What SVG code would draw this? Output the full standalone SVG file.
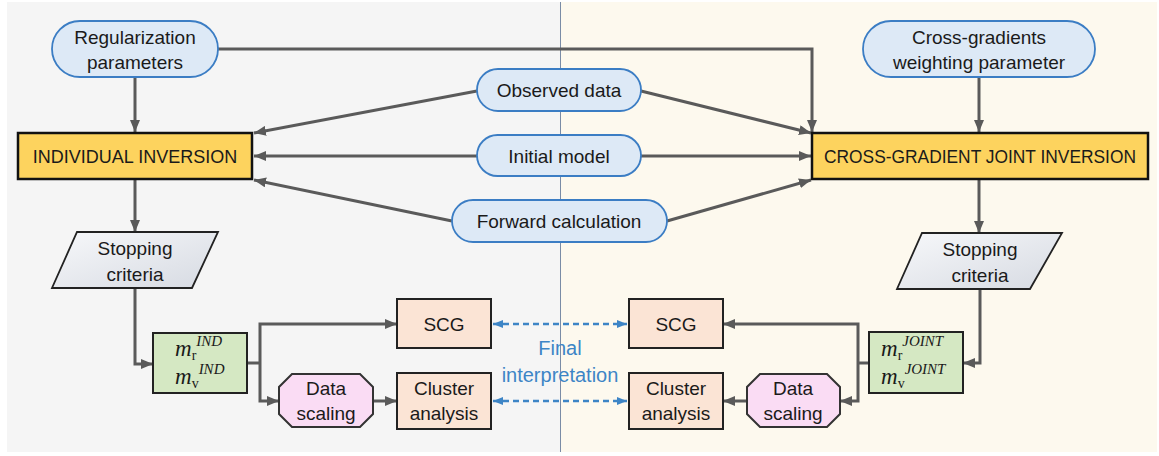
<svg xmlns="http://www.w3.org/2000/svg" width="1159" height="456" viewBox="0 0 1159 456">
<defs>
<style>
.t{font-family:"Liberation Sans",Arial,sans-serif;font-size:19px;fill:#1a1a1a;text-anchor:middle}
.cap{font-size:18px}
.blue{fill:#3d85c6;font-size:20px}
.pill{fill:#dde9f6;stroke:#3b7dc4;stroke-width:1.8}
.main{fill:#fdd35e;stroke:#111;stroke-width:2.5}
.peach{fill:#fbe4d5;stroke:#222;stroke-width:2}
.green{fill:#d5e8c3;stroke:#222;stroke-width:2}
.pink{fill:#fadcf4;stroke:#333;stroke-width:2}
.stop{fill:url(#sg);stroke:#222;stroke-width:1.8}
.c{fill:none;stroke:#5a5a5a;stroke-width:3;marker-end:url(#ah)}
.cn{fill:none;stroke:#5a5a5a;stroke-width:3}
.d{fill:none;stroke:#3d85c6;stroke-width:2.5;stroke-dasharray:6 4;marker-start:url(#bs);marker-end:url(#be)}
.m{font-family:"Liberation Serif","Times New Roman",serif;font-style:italic;font-size:23px;fill:#1a1a1a}
.sb{font-style:normal;font-size:14px}
.sp{font-size:15px}
</style>
<linearGradient id="sg" x1="0" y1="0" x2="1" y2="1">
<stop offset="0" stop-color="#f7f8fa"/>
<stop offset="1" stop-color="#d6dae2"/>
</linearGradient>
<marker id="ah" markerUnits="userSpaceOnUse" viewBox="0 0 12 10" refX="12" refY="5" markerWidth="12" markerHeight="10" orient="auto">
<path d="M0,0 L12,5 L0,10 z" fill="#5a5a5a"/>
</marker>
<marker id="be" markerUnits="userSpaceOnUse" viewBox="0 0 10 8" refX="10" refY="4" markerWidth="10" markerHeight="8" orient="auto">
<path d="M0,0 L10,4 L0,8 z" fill="#3d85c6"/>
</marker>
<marker id="bs" markerUnits="userSpaceOnUse" viewBox="0 0 10 8" refX="0" refY="4" markerWidth="10" markerHeight="8" orient="auto">
<path d="M10,0 L0,4 L10,8 z" fill="#3d85c6"/>
</marker>
</defs>
<rect width="1159" height="456" fill="#ffffff"/>
<rect x="7" y="2" width="553" height="450" fill="#f5f5f5"/>
<rect x="560" y="2" width="597" height="450" fill="#fdf9ee"/>
<line x1="560.5" y1="2" x2="560.5" y2="452" stroke="#7a8ca6" stroke-width="1"/>

<g id="connectors">
<path class="c" d="M135,77 V132"/>
<path class="c" d="M218,49 H812 V132"/>
<path class="c" d="M979,77 V132"/>
<path class="c" d="M477,91 L254,133"/>
<path class="c" d="M477,156 H254"/>
<path class="c" d="M452,221 L254,180"/>
<path class="c" d="M641,91 L811,133"/>
<path class="c" d="M641,156 H811"/>
<path class="c" d="M667,221 L811,180"/>
<path class="c" d="M135,179 V232"/>
<path class="c" d="M979,179 V233"/>
<path class="c" d="M135,288 V364 H153"/>
<path class="c" d="M980,289 V363 H963"/>
<path class="cn" d="M247,363 H260"/>
<path class="c" d="M260,363 V324 H397"/>
<path class="c" d="M260,363 V401 H279"/>
<path class="c" d="M373,401 H397"/>
<path class="cn" d="M869,363 H858"/>
<path class="c" d="M858,363 V324 H723"/>
<path class="c" d="M858,363 V401 H840"/>
<path class="c" d="M747,401 H723"/>
<path class="d" d="M493,324 H627"/>
<path class="d" d="M493,401 H627"/>
</g>

<g id="reg-params">
<rect class="pill" x="52" y="21" width="166" height="56" rx="28"/>
<text class="t" x="135" y="44">Regularization</text>
<text class="t" x="135" y="69">parameters</text>
</g>
<g id="cross-weight">
<rect class="pill" x="863" y="21" width="232" height="56" rx="28"/>
<text class="t" x="979" y="44">Cross-gradients</text>
<text class="t" x="979" y="69">weighting parameter</text>
</g>
<g id="observed">
<rect class="pill" x="477" y="69" width="164" height="42" rx="21"/>
<text class="t" x="559" y="97">Observed data</text>
</g>
<g id="initial">
<rect class="pill" x="477" y="135" width="164" height="41" rx="20.5"/>
<text class="t" x="559" y="163">Initial model</text>
</g>
<g id="forward">
<rect class="pill" x="452" y="200" width="215" height="42" rx="21"/>
<text class="t" x="559" y="228">Forward calculation</text>
</g>
<g id="ind-inv">
<rect class="main" x="18" y="133" width="234" height="46"/>
<text class="t cap" x="135" y="163">INDIVIDUAL INVERSION</text>
</g>
<g id="joint-inv">
<rect class="main" x="812" y="133" width="336" height="46"/>
<text class="t cap" x="980" y="163" textLength="312" lengthAdjust="spacingAndGlyphs">CROSS-GRADIENT JOINT INVERSION</text>
</g>
<g id="stop-left">
<polygon class="stop" points="77,232 218,232 192,288 52,288"/>
<text class="t" x="135" y="255">Stopping</text>
<text class="t" x="135" y="281">criteria</text>
</g>
<g id="stop-right">
<polygon class="stop" points="922,233 1062,233 1030,289 897,289"/>
<text class="t" x="980" y="256">Stopping</text>
<text class="t" x="980" y="282">criteria</text>
</g>
<g id="m-ind">
<rect class="green" x="153" y="333" width="94" height="60"/>
<text class="m" x="175" y="356">m<tspan class="sb" dy="4">r</tspan><tspan class="sp" dy="-14">IND</tspan></text>
<text class="m" x="175" y="384">m<tspan class="sb" dy="4">v</tspan><tspan class="sp" dy="-14">IND</tspan></text>
</g>
<g id="m-joint">
<rect class="green" x="869" y="332" width="94" height="61"/>
<text class="m" x="881" y="356">m<tspan class="sb" dy="4">r</tspan><tspan class="sp" dy="-14">JOINT</tspan></text>
<text class="m" x="881" y="384">m<tspan class="sb" dy="4">v</tspan><tspan class="sp" dy="-14">JOINT</tspan></text>
</g>
<g id="scale-left">
<polygon class="pink" points="292,374 360,374 373,387 373,414 360,427 292,427 279,414 279,387"/>
<text class="t" x="326" y="395">Data</text>
<text class="t" x="326" y="420">scaling</text>
</g>
<g id="scale-right">
<polygon class="pink" points="760,374 827,374 840,387 840,414 827,427 760,427 747,414 747,387"/>
<text class="t" x="793" y="395">Data</text>
<text class="t" x="793" y="420">scaling</text>
</g>
<g id="scg-left">
<rect class="peach" x="397" y="299" width="94" height="49"/>
<text class="t" x="444" y="331">SCG</text>
</g>
<g id="cluster-left">
<rect class="peach" x="397" y="373" width="94" height="56"/>
<text class="t" x="444" y="395">Cluster</text>
<text class="t" x="444" y="420">analysis</text>
</g>
<g id="scg-right">
<rect class="peach" x="629" y="299" width="94" height="49"/>
<text class="t" x="676" y="331">SCG</text>
</g>
<g id="cluster-right">
<rect class="peach" x="629" y="373" width="94" height="56"/>
<text class="t" x="676" y="395">Cluster</text>
<text class="t" x="676" y="420">analysis</text>
</g>
<g id="final-label">
<text class="t blue" x="560" y="355">Final</text>
<text class="t blue" x="560" y="382">interpretation</text>
</g>
</svg>
